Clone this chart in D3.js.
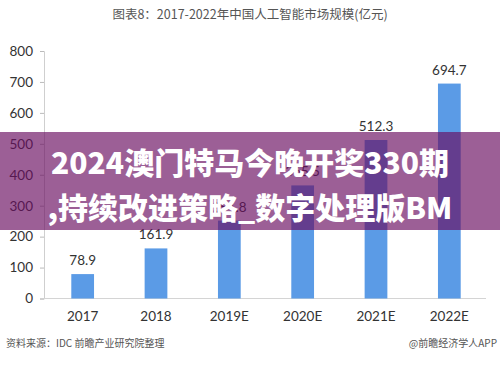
<!DOCTYPE html>
<html>
<head>
<meta charset="utf-8">
<script src="https://cdn.jsdelivr.net/npm/d3@7"></script>
<style>
  html, body { margin: 0; padding: 0; background: #fff; }
  svg { display: block; }
</style>
</head>
<body>
<svg id="chart" width="500" height="367"></svg>
<script>
// China AI market size, 100 million yuan
const years = ["2017", "2018", "2019E", "2020E", "2021E", "2022E"];
const marketSize = [78.9, 161.9, 251.8, 365.5, 512.3, 694.7];
const yTicks = [0, 100, 200, 300, 400, 500, 600, 700, 800];

const titleText = "图表8：2017-2022年中国人工智能市场规模(亿元)";
const sourceText = "资料来源：IDC 前瞻产业研究院整理";
const brandText = "@前瞻经济学人APP";
const bannerLines = ["2024澳门特马今晚开奖330期", ",持续改进策略_数字处理版BM"];

const numFont = "Lato, 'Open Sans', sans-serif";
const cjkFont = "'Noto Sans CJK SC', 'Noto Sans', sans-serif";

const svg = d3.select("#chart");

const x = d3.scaleBand().domain(years).range([46, 486]).paddingInner(0.69).paddingOuter(0.345);
const y = d3.scaleLinear().domain([0, 800]).range([298.5, 51]);

// title
svg.append("text")
  .attr("x", 250).attr("y", 19)
  .attr("text-anchor", "middle")
  .attr("font-family", cjkFont)
  .attr("font-size", 12.5)
  .attr("fill", "#555")
  .text(titleText);

// y axis
const yAxis = d3.axisLeft(y).tickValues(yTicks).tickSize(4).tickPadding(7);
const gy = svg.append("g").attr("transform", "translate(44,0)").call(yAxis);
gy.select(".domain").attr("stroke", "#cfcfcf");
gy.selectAll(".tick line").attr("stroke", "#bbb");
gy.selectAll(".tick text")
  .attr("font-family", numFont)
  .attr("font-size", 13.5)
  .attr("fill", "#333");

// baseline
svg.append("line")
  .attr("x1", 44).attr("x2", 486)
  .attr("y1", y(0)).attr("y2", y(0))
  .attr("stroke", "#d4d4d4");

// bars
svg.append("g").selectAll("rect")
  .data(years)
  .join("rect")
  .attr("x", d => x(d))
  .attr("width", x.bandwidth())
  .attr("y", (d, i) => y(marketSize[i]))
  .attr("height", (d, i) => y(0) - y(marketSize[i]))
  .attr("fill", "#5b9be6");

// value labels
svg.append("g").selectAll("text")
  .data(years)
  .join("text")
  .attr("x", d => x(d) + x.bandwidth() / 2)
  .attr("y", (d, i) => y(marketSize[i]) - 9)
  .attr("text-anchor", "middle")
  .attr("font-family", numFont)
  .attr("font-size", 13.5)
  .attr("fill", "#333")
  .text((d, i) => marketSize[i].toFixed(1));

// x axis labels
const xAxis = d3.axisBottom(x).tickSize(0).tickPadding(13);
const gx = svg.append("g").attr("transform", `translate(0,${y(0)})`).call(xAxis);
gx.select(".domain").remove();
gx.selectAll(".tick text")
  .attr("font-family", numFont)
  .attr("font-size", 13.5)
  .attr("fill", "#333");

// footer
svg.append("text")
  .attr("x", 6).attr("y", 347)
  .attr("font-family", cjkFont)
  .attr("font-size", 10)
  .attr("fill", "#555")
  .text(sourceText);
svg.append("text")
  .attr("x", 497).attr("y", 347)
  .attr("text-anchor", "end")
  .attr("font-family", cjkFont)
  .attr("font-size", 10)
  .attr("fill", "#555")
  .text(brandText);

// translucent banner across the middle
svg.append("rect")
  .attr("x", 0).attr("y", 132)
  .attr("width", 500).attr("height", 98)
  .attr("fill", "rgb(104,12,95)")
  .attr("fill-opacity", 0.66);

svg.append("g").selectAll("text")
  .data(bannerLines)
  .join("text")
  .attr("x", 250)
  .attr("y", (d, i) => 174 + i * 45)
  .attr("text-anchor", "middle")
  .attr("font-family", cjkFont)
  .attr("font-weight", 900)
  .attr("font-size", 30)
  .attr("fill", "#fff")
  .text(d => d);
</script>
</body>
</html>
